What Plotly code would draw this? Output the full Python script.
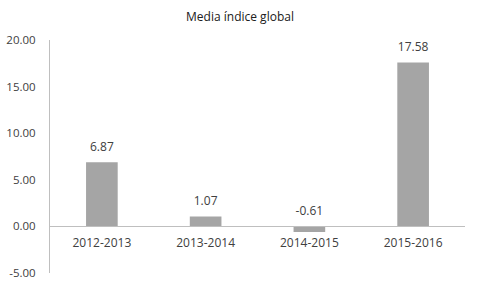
import plotly.graph_objects as go

categories = ["2012-2013", "2013-2014", "2014-2015", "2015-2016"]
values = [6.87, 1.07, -0.61, 17.58]
y_ticks = [-5, 0, 5, 10, 15, 20]
y_tick_labels = ["-5.00", "0.00", "5.00", "10.00", "15.00", "20.00"]
title_text = "Media índice global"

font_family = "Open Sans, Noto Sans, sans-serif"
text_color = "#404040"

fig = go.Figure()
fig.add_trace(go.Bar(
    x=categories, y=values,
    marker=dict(color="#A5A5A5", line=dict(width=0)),
    hoverinfo="skip",
))
fig.add_trace(go.Scatter(
    x=categories, y=[max(v, 0) for v in values],
    mode="markers+text",
    marker=dict(size=12, opacity=0),
    text=[f"{v:.2f}" for v in values],
    textposition="top center",
    textfont=dict(size=12, color=text_color, family=font_family),
    hoverinfo="skip",
))

fig.update_layout(
    width=480, height=288,
    margin=dict(l=50, r=15, t=40, b=15, autoexpand=False),
    paper_bgcolor="white", plot_bgcolor="white",
    showlegend=False,
    bargap=0.695,
    font=dict(family=font_family, size=12, color=text_color),
    title=dict(text=title_text, x=0.5, xanchor="center", y=0.941, yanchor="middle",
               font=dict(size=12, color="#202020", family=font_family)),
    xaxis=dict(
        type="category",
        anchor="free", position=0.2,
        showline=True, linecolor="#BFBFBF", linewidth=1,
        showgrid=False, zeroline=False, ticks="",
        tickfont=dict(size=12, color=text_color),
        ticklabelstandoff=5,
        automargin=False,
        fixedrange=True,
    ),
    yaxis=dict(
        range=[-5, 20],
        tickvals=y_ticks, ticktext=y_tick_labels,
        showline=True, linecolor="#BFBFBF", linewidth=1,
        showgrid=False, zeroline=False, ticks="",
        tickfont=dict(size=11.5, color=text_color),
        ticklabelstandoff=11,
        automargin=False,
        fixedrange=True,
    ),
)

fig.write_html(
    "out.html",
    config={"displayModeBar": False, "staticPlot": True},
    post_script="document.body.style.margin='0';document.body.style.overflow='hidden';",
)
